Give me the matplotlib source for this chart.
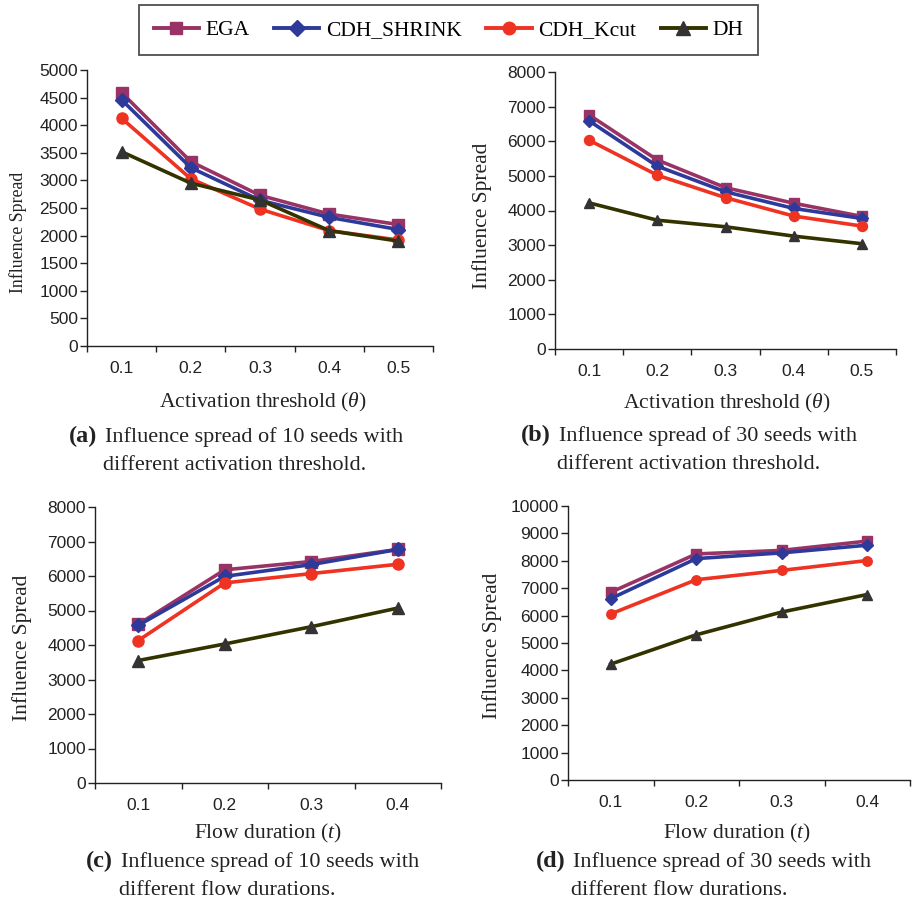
import matplotlib
matplotlib.use("Agg")
import matplotlib.pyplot as plt
from matplotlib.lines import Line2D

plt.rcParams["mathtext.fontset"] = "custom"
plt.rcParams["mathtext.it"] = "Liberation Serif:italic"
plt.rcParams["mathtext.rm"] = "Liberation Serif"
plt.rcParams["mathtext.bf"] = "Liberation Serif:bold"

W, H = 914, 902

series = ["EGA", "CDH_SHRINK", "CDH_Kcut", "DH"]

theta_labels = ["0.1", "0.2", "0.3", "0.4", "0.5"]
flow_labels = ["0.1", "0.2", "0.3", "0.4"]

# (a) 10 seeds, activation threshold
a_ega = [4590, 3340, 2730, 2390, 2200]
a_shrink = [4460, 3230, 2640, 2330, 2110]
a_kcut = [4125, 3030, 2480, 2090, 1920]
a_dh = [3520, 2950, 2645, 2090, 1900]

# (b) 30 seeds, activation threshold
b_ega = [6760, 5460, 4660, 4210, 3830]
b_shrink = [6590, 5280, 4540, 4060, 3770]
b_kcut = [6030, 5020, 4370, 3840, 3550]
b_dh = [4220, 3720, 3530, 3260, 3040]

# (c) 10 seeds, flow duration
c_ega = [4600, 6180, 6420, 6770]
c_shrink = [4570, 5990, 6330, 6770]
c_kcut = [4130, 5800, 6070, 6340]
c_dh = [3550, 4030, 4530, 5070]

# (d) 30 seeds, flow duration
d_ega = [6850, 8250, 8380, 8720]
d_shrink = [6620, 8080, 8290, 8570]
d_kcut = [6060, 7310, 7650, 8010]
d_dh = [4230, 5300, 6130, 6770]

colors = {"EGA": "#993366", "CDH_SHRINK": "#2E3A9A", "CDH_Kcut": "#EE3322", "DH": "#333300"}
mfc = {"EGA": "#993366", "CDH_SHRINK": "#2E3A9A", "CDH_Kcut": "#EE3322", "DH": "#333333"}
markers = {"EGA": "s", "CDH_SHRINK": "D", "CDH_Kcut": "o", "DH": "^"}
msize = {"EGA": 8, "CDH_SHRINK": 7, "CDH_Kcut": 8, "DH": 8.5}

SANS = "Liberation Sans"
SERIF = "Liberation Serif"

fig = plt.figure(figsize=(W / 100, H / 100), dpi=100)


def rect(l, r, t, b):
    return [l / W, 1 - b / H, (r - l) / W, (b - t) / H]


def fx(x):
    return x / W


def fy(y):
    return 1 - y / H


def make_panel(box, labels, data, ymax, ystep, msc):
    ax = fig.add_axes(rect(*box))
    n = len(labels)
    xs = list(range(1, n + 1))
    for name, vals in zip(series, data):
        ax.plot(xs, vals, color=colors[name], lw=2.6, marker=markers[name],
                markersize=msize[name] * msc, markerfacecolor=mfc[name],
                markeredgecolor=mfc[name], clip_on=False, zorder=3)
    ax.set_xlim(0.5, n + 0.5)
    ax.set_ylim(0, ymax)
    ax.set_yticks(list(range(0, ymax + 1, ystep)))
    ax.set_xticks([i + 0.5 for i in range(0, n + 1)])
    ax.set_xticklabels([])
    ax.set_xticks(xs, minor=True)
    ax.set_xticklabels(labels, minor=True)
    for s in ["top", "right"]:
        ax.spines[s].set_visible(False)
    for s in ["left", "bottom"]:
        ax.spines[s].set_linewidth(1.0)
        ax.spines[s].set_color("#222222")
    ax.tick_params(axis="y", which="major", direction="out", length=5, width=1.0,
                   pad=1.5, labelsize=12.5, color="#222222")
    ax.tick_params(axis="x", which="major", direction="out", length=4, width=1.0,
                   color="#222222")
    ax.tick_params(axis="x", which="minor", length=0, pad=11, labelsize=12.5)
    for lab in ax.get_yticklabels() + ax.get_xticklabels(minor=True):
        lab.set_fontfamily(SANS)
        lab.set_color("#222222")
    return ax


make_panel((87, 433, 70, 346), theta_labels, [a_ega, a_shrink, a_kcut, a_dh], 5000, 500, 1.0)
make_panel((555, 896, 72, 349), theta_labels, [b_ega, b_shrink, b_kcut, b_dh], 8000, 1000, 0.9)
make_panel((95, 441, 507, 783), flow_labels, [c_ega, c_shrink, c_kcut, c_dh], 8000, 1000, 1.0)
make_panel((568, 910, 506, 780), flow_labels, [d_ega, d_shrink, d_kcut, d_dh], 10000, 1000, 0.85)

# y labels
for (x, y, fs) in [(18, 232, 12.8), (482, 216, 15.5), (22, 648, 15.5), (492, 646, 15.5)]:
    fig.text(fx(x), fy(y), "Influence Spread", rotation=90, ha="center", va="center",
             fontsize=fs, fontfamily=SERIF, color="#222222")

# x labels
for (x, y, txt) in [(263, 407, r"Activation threshold ($\theta$)"),
                    (727, 408, r"Activation threshold ($\theta$)"),
                    (268, 838, r"Flow duration ($t$)"),
                    (737, 838, r"Flow duration ($t$)")]:
    fig.text(fx(x), fy(y), txt, ha="center", va="baseline", fontsize=15.5,
             fontfamily=SERIF, color="#222222")

# captions
caps = [
    (69, 105, 442, 470, "(a)", "Influence spread of 10 seeds with", "different activation threshold."),
    (521, 559, 441, 469, "(b)", "Influence spread of 30 seeds with", "different activation threshold."),
    (86, 121, 867, 895, "(c)", "Influence spread of 10 seeds with", "different flow durations."),
    (536, 573, 867, 895, "(d)", "Influence spread of 30 seeds with", "different flow durations."),
]
for (x0, x1, y1, y2, lab, l1, l2) in caps:
    fig.text(fx(x0), fy(y1), lab, ha="left", va="baseline", fontsize=17.5,
             fontweight="bold", fontfamily=SERIF, color="#222222")
    fig.text(fx(x1), fy(y1), l1, ha="left", va="baseline", fontsize=16,
             fontfamily=SERIF, color="#222222")
    fig.text(fx(x1 - 2), fy(y2), l2, ha="left", va="baseline", fontsize=16,
             fontfamily=SERIF, color="#222222")

# legend
handles = [Line2D([0], [0], color=colors[s], lw=2.8, marker=markers[s],
                  markersize=msize[s] + 1, markerfacecolor=mfc[s], markeredgecolor=mfc[s])
           for s in series]
leg = fig.legend(handles, series, loc="upper center", bbox_to_anchor=(fx(448.5), fy(5)),
                 ncol=4, frameon=True, fancybox=False, edgecolor="#222222",
                 prop={"family": SERIF, "size": 15.5}, handlelength=2.1,
                 handletextpad=0.3, columnspacing=1.15, borderpad=0.7,
                 borderaxespad=0)
leg.get_frame().set_linewidth(1.3)

fig.savefig("out.png", dpi=100)
